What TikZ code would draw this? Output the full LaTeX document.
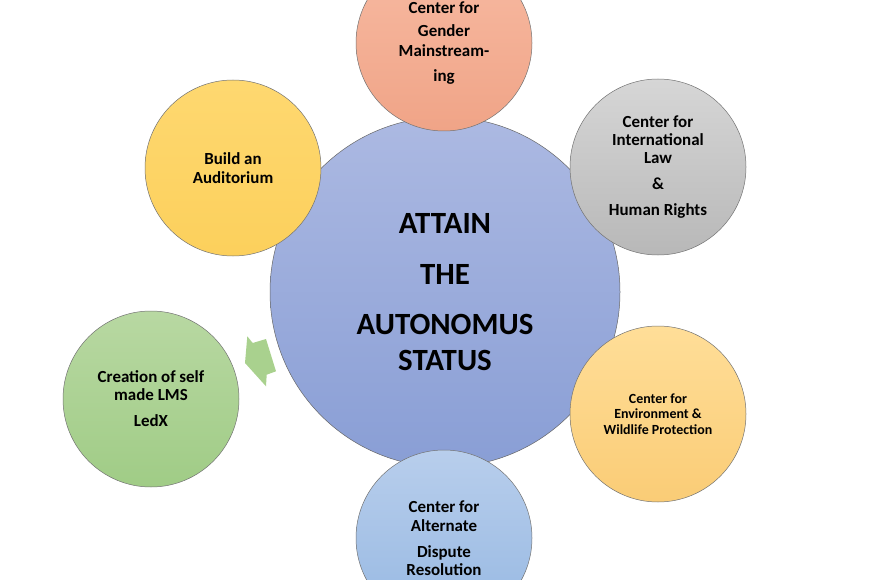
\documentclass[tikz,border=0pt]{standalone}
\usepackage{fontspec}
\setmainfont{Carlito}
\usetikzlibrary{positioning}
\definecolor{hubtop}{RGB}{172,185,226}
\definecolor{hubbot}{RGB}{137,158,213}
\definecolor{gendertop}{RGB}{247,186,162}
\definecolor{genderbot}{RGB}{240,164,135}
\definecolor{lawtop}{RGB}{214,214,214}
\definecolor{lawbot}{RGB}{184,184,184}
\definecolor{envtop}{RGB}{255,222,152}
\definecolor{envbot}{RGB}{250,204,118}
\definecolor{audtop}{RGB}{254,216,112}
\definecolor{audbot}{RGB}{252,208,92}
\definecolor{lmstop}{RGB}{184,216,162}
\definecolor{lmsbot}{RGB}{160,204,134}
\definecolor{adrtop}{RGB}{184,206,236}
\definecolor{adrbot}{RGB}{150,184,226}
\definecolor{arrowgreen}{RGB}{169,209,142}
\tikzset{
  hub/.style={
    circle,
    draw=black!60,
    line width=0.5pt,
    minimum size=350bp,
    inner sep=0pt,
    align=center,
    font=\fontsize{31}{34}\selectfont\bfseries
  },
  spoke/.style={
    circle,
    draw=black!55,
    line width=0.5pt,
    minimum size=176bp,
    inner sep=0pt,
    align=center,
    font=\fontsize{17}{18}\selectfont\bfseries
  },
  shade2/.style 2 args={top color=#1, bottom color=#2}
}

\begin{document}
\begin{tikzpicture}[x=1bp, y=-1bp]
    \useasboundingbox (0,0) rectangle (891,580);
    \node[hub, shade2={hubtop}{hubbot}] (hub) at (445,292)
      {ATTAIN\\[18bp]THE\\[16bp]AUTONOMUS\\[2bp]STATUS};

    \node[spoke, shade2={gendertop}{genderbot}] (gender) at (444,43)
      {Center for\\[6bp]Gender\\[2bp]Mainstream-\\[7bp]ing};
    \node[spoke, shade2={lawtop}{lawbot}] (law) at (658,167)
      {Center for\\International\\Law\\[8bp]\&\\[8bp]Human Rights};
    \node[spoke, shade2={envtop}{envbot}, font=\fontsize{14}{15.5}\selectfont\bfseries] (env) at (658,414)
      {Center for\\Environment \&\\Wildlife Protection};
    \node[spoke, shade2={audtop}{audbot}] (aud) at (233,168)
      {Build an\\[1bp]Auditorium};
    \node[spoke, shade2={lmstop}{lmsbot}] (lms) at (151,399)
      {Creation of self\\made LMS\\[8bp]LedX};
    \node[spoke, shade2={adrtop}{adrbot}] (adr) at (444,538)
      {Center for\\[1bp]Alternate\\[8bp]Dispute\\Resolution};

    % block arrow between hub and lms
    \fill[arrowgreen] (247.3,336.3) -- (252.7,343) -- (266,339) -- (276,371.3)
      -- (266.7,374.7) -- (266,386.3) -- (245,363) -- cycle;
\end{tikzpicture}
\end{document}
